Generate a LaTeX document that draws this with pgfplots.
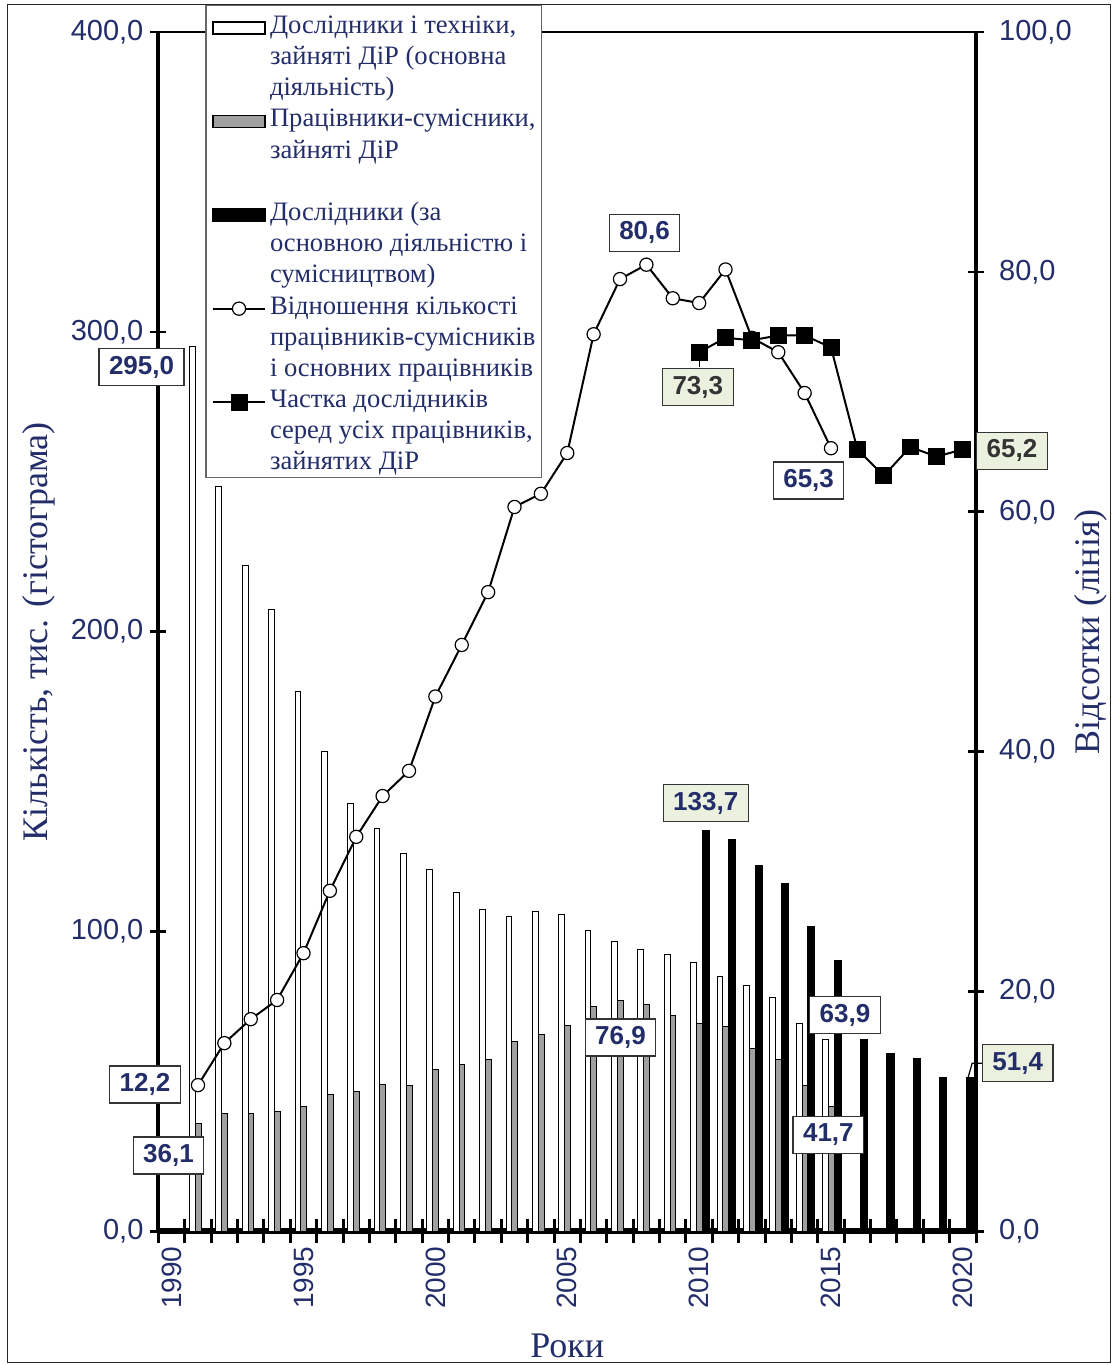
\documentclass[border=0pt]{standalone}
\usepackage{fontspec}
\setmainfont{Liberation Serif}
\setsansfont{Liberation Sans}
\usepackage{pgfplots}
\usepackage{pgfplotstable}
\pgfplotsset{compat=1.18}
\definecolor{navy}{RGB}{35,45,105}
\definecolor{lgreen}{RGB}{235,241,222}
\definecolor{bargray}{RGB}{160,160,160}

\pgfplotsset{
  barleg/.style={legend image code/.code={\draw[##1] (0pt,-5.4pt) rectangle (26pt,0.6pt);}},
  lineleg/.style={legend image code/.code={\draw[mark repeat=2,mark phase=2,##1] plot coordinates {(0pt,-2.4pt) (13pt,-2.4pt) (26pt,-2.4pt)};}},
}
\tikzset{
  lbl/.style={draw=black!80, line width=0.6pt, fill=white, text=navy,
    font=\sffamily\bfseries\fontsize{13}{13}\selectfont,
    inner xsep=5pt, inner ysep=0pt, minimum height=18.5pt},
}

% researchers and technicians (main activity), thousands
\pgfplotstableread{
year val
1991 295.0
1992 248.4
1993 222.1
1994 207.3
1995 179.9
1996 160.1
1997 142.6
1998 134.3
1999 126.0
2000 120.7
2001 113.2
2002 107.3
2003 105.1
2004 106.6
2005 105.7
2006 100.3
2007 96.8
2008 94.0
2009 92.4
2010 89.7
2011 84.9
2012 81.9
2013 77.9
2014 69.3
2015 63.9
}\mainT

% part-time workers
\pgfplotstableread{
year val
1991 36.1
1992 39.2
1993 39.4
1994 40.1
1995 41.8
1996 45.6
1997 46.8
1998 49.0
1999 48.6
2000 54.1
2001 55.6
2002 57.3
2003 63.4
2004 65.6
2005 68.6
2006 74.9
2007 76.9
2008 75.8
2009 72.0
2010 69.4
2011 68.4
2012 61.1
2013 57.2
2014 48.7
2015 41.7
}\partT

% researchers (main + part-time)
\pgfplotstableread{
year val
2010 133.7
2011 130.6
2012 122.1
2013 116.0
2014 101.6
2015 90.3
2016 64.0
2017 59.4
2018 57.8
2019 51.2
2020 51.4
}\resT

% ratio part-time / main, %
\pgfplotstableread{
year val
1991 12.2
1992 15.7
1993 17.7
1994 19.3
1995 23.2
1996 28.4
1997 32.9
1998 36.3
1999 38.4
2000 44.6
2001 48.9
2002 53.3
2003 60.4
2004 61.5
2005 64.9
2006 74.8
2007 79.4
2008 80.6
2009 77.8
2010 77.4
2011 80.2
2012 74.5
2013 73.3
2014 69.9
2015 65.3
}\ratioT

% share of researchers, %
\pgfplotstableread{
year val
2010 73.3
2011 74.5
2012 74.3
2013 74.7
2014 74.7
2015 73.7
2016 65.2
2017 63.0
2018 65.4
2019 64.6
2020 65.2
}\shareT

\begin{document}
\begin{tikzpicture}
\begin{axis}[
  name=main,
  scale only axis, width=409pt, height=600pt,
  xmin=1989.5, xmax=2020.5, ymin=0, ymax=400,
  axis x line*=bottom, axis y line*=left,
  x axis line style={line width=3pt},
  y axis line style={line width=2pt},
  xtick={1990,1995,...,2020},
  minor xtick={1989.5,1990.5,...,2020.5},
  ytick={0,100,...,400},
  tick align=center,
  major tick length=8pt, minor tick length=12pt,
  tick style={line width=1.3pt, black},
  minor tick style={line width=1.5pt, black},
  every major x tick/.style={draw=none},
  tick label style={font=\sffamily\fontsize{14.5}{14.5}\selectfont, text=navy},
  x tick label style={rotate=90, anchor=east, font=\sffamily\fontsize{14}{14}\selectfont,
    /pgf/number format/.cd, 1000 sep={}, assume math mode=true},
  y tick label style={/pgf/number format/.cd, fixed, fixed zerofill,
    precision=1, use comma, 1000 sep={}, assume math mode=true},
  xlabel={Роки},
  ylabel={Кількість, тис. (гістограма)},
  every axis x label/.style={at={(rel axis cs:0.5,-0.0958)}, anchor=center,
    font=\fontsize{18}{18}\selectfont, text=navy},
  every axis y label/.style={at={(rel axis cs:-0.1467,0.5)}, anchor=center, rotate=90,
    font=\fontsize{18}{18}\selectfont, text=navy},
]
\addplot[ybar, bar width=0.22, bar shift=-0.21, fill=white, draw=black, line width=0.5pt]
  table[x=year, y=val] {\mainT};
\addplot[ybar, bar width=0.22, bar shift=0.01, fill=bargray, draw=black, line width=0.5pt]
  table[x=year, y=val] {\partT};
\addplot[ybar, bar width=0.27, bar shift=0.255, fill=black, draw=black, line width=0.5pt]
  table[x=year, y=val] {\resT};
\draw[line width=0.6pt] (rel axis cs:0,1) -- (rel axis cs:1,1);
\end{axis}

\begin{axis}[
  scale only axis, width=409pt, height=600pt,
  xmin=1989.5, xmax=2020.5, ymin=0, ymax=100,
  axis x line=none, axis y line*=right,
  y axis line style={line width=2pt},
  ytick={0,20,...,100},
  tick align=center,
  major tick length=8pt,
  tick style={line width=1.3pt, black},
  tick label style={font=\sffamily\fontsize{14.5}{14.5}\selectfont, text=navy},
  yticklabel shift=4pt,
  y tick label style={/pgf/number format/.cd, fixed, fixed zerofill,
    precision=1, use comma, assume math mode=true},
  ylabel={Відсотки (лінія)},
  every axis y label/.style={at={(rel axis cs:1.1406,0.5)}, anchor=center, rotate=90,
    font=\fontsize{18}{18}\selectfont, text=navy},
  clip=false,
  legend cell align=left,
  legend style={at={(rel axis cs:0.0575,1.0225)}, anchor=north west,
    draw=black!60, line width=0.6pt, fill=white,
    font=\fontsize{13.3}{13.3}\selectfont, text=navy,
    inner xsep=3pt, inner ysep=1pt, row sep=0pt, column sep=2pt,
    nodes={inner sep=0pt, text height=12.9pt, text depth=2.7pt}},
]
\addplot[black, line width=1pt, mark=*, mark size=3.3pt,
  mark options={fill=white, draw=black, line width=0.6pt}, forget plot]
  table[x=year, y=val] {\ratioT};
\addplot[black, line width=1pt, mark=square*, mark size=3.75pt,
  mark options={fill=black}, forget plot]
  table[x=year, y=val] {\shareT};

\addlegendimage{barleg, fill=white, draw=black, line width=0.8pt}
\addlegendentry{Дослідники і техніки,}
\addlegendimage{empty legend}\addlegendentry{зайняті ДіР (основна}
\addlegendimage{empty legend}\addlegendentry{діяльність)}
\addlegendimage{barleg, fill=bargray, draw=black, line width=0.8pt}
\addlegendentry{Працівники-сумісники,}
\addlegendimage{empty legend}\addlegendentry{зайняті ДіР}
\addlegendimage{empty legend}\addlegendentry{\strut}
\addlegendimage{barleg, fill=black, draw=black, line width=0.8pt}
\addlegendentry{Дослідники (за}
\addlegendimage{empty legend}\addlegendentry{основною діяльністю і}
\addlegendimage{empty legend}\addlegendentry{сумісництвом)}
\addlegendimage{lineleg, black, line width=1pt, mark=*, mark size=3.3pt,
  mark options={fill=white, draw=black, line width=0.6pt}}
\addlegendentry{Відношення кількості}
\addlegendimage{empty legend}\addlegendentry{працівників-сумісників}
\addlegendimage{empty legend}\addlegendentry{і основних працівників}
\addlegendimage{lineleg, black, line width=1pt, mark=square*, mark size=3.75pt,
  mark options={fill=black}}
\addlegendentry{Частка дослідників}
\addlegendimage{empty legend}\addlegendentry{серед усіх працівників,}
\addlegendimage{empty legend}\addlegendentry{зайнятих ДіР}

% data labels
\draw[line width=0.6pt] (axis cs:2010,73.3) -- (axis cs:2010,72.1);
\draw[line width=0.6pt] (axis cs:2020.2,12.85) -- (axis cs:2020.35,14.02) -- (axis cs:2021.0,14.02);
\node[lbl] at (axis cs:1988.86,72.04) {295,0};
\node[lbl] at (axis cs:1988.99,12.25) {12,2};
\node[lbl] at (axis cs:1989.88,6.33) {36,1};
\node[lbl] at (axis cs:2007.93,83.25) {80,6};
\node[lbl, fill=lgreen, text=black!80] at (axis cs:2009.95,70.4) {73,3};
\node[lbl] at (axis cs:2014.15,62.6) {65,3};
\node[lbl, fill=lgreen, text=black!80] at (axis cs:2021.86,65.08) {65,2};
\node[lbl, fill=lgreen] at (axis cs:2010.25,35.72) {133,7};
\node[lbl] at (axis cs:2007.02,16.17) {76,9};
\node[lbl] at (axis cs:2015.53,18.04) {63,9};
\node[lbl] at (axis cs:2014.90,8.04) {41,7};
\node[lbl, fill=lgreen] at (axis cs:2022.08,14.02) {51,4};
\end{axis}

\draw[line width=0.5pt, black!85] ([shift={(-75.25pt,-65.5pt)}]main.south west)
  rectangle ([shift={(67.25pt,13.5pt)}]main.north east);
\path ([shift={(-79.25pt,-66.5pt)}]main.south west)
  rectangle ([shift={(68.25pt,16pt)}]main.north east);
\end{tikzpicture}
\end{document}
